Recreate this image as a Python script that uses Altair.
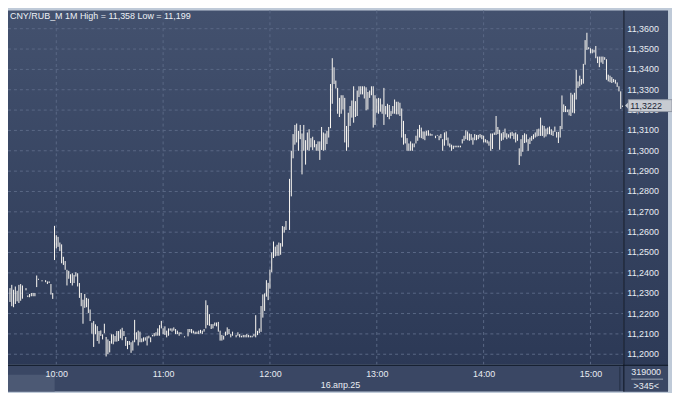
import altair as alt
import pandas as pd
from datetime import datetime, timedelta

# ---- data (1-minute bars, high / low) ----
highs = [
    11.2325, 11.2341, 11.2317, 11.2333, 11.2312, 11.2341, 11.2345, 11.2338, None, 11.2325,
    11.2289, 11.2296, 11.2301, 11.2301, 11.2301, 11.2387, 11.2371, None, 11.2364, None,
    11.2364, 11.2358, 11.2358, 11.2345, 11.2301, 11.2631, 11.2585, 11.2577, 11.2549, 11.2540,
    11.2479, 11.2458, 11.2415, 11.2410, 11.2393, 11.2398, 11.2390, 11.2403, 11.2398, 11.2350,
    11.2301, 11.2268, 11.2296, 11.2277, 11.2273, 11.2220, 11.2155, 11.2163, 11.2147, 11.2138,
    11.2114, 11.2117, 11.2098, 11.2150, 11.2085, 11.2073, 11.2065, 11.2098, 11.2098, 11.2090,
    11.2114, 11.2114, 11.2122, 11.2130, 11.2114, 11.2085, 11.2065, 11.2065, 11.2059, 11.2067,
    11.2169, 11.2108, 11.2116, 11.2111, 11.2078, 11.2083, 11.2083, 11.2088, 11.2091, 11.2083,
    11.2095, 11.2104, 11.2108, 11.2127, 11.2143, 11.2164, 11.2127, 11.2137, 11.2116, 11.2127,
    11.2127, 11.2127, 11.2132, 11.2124, 11.2116, 11.2108, 11.2108, None, 11.2088, None,
    11.2124, 11.2124, 11.2124, 11.2116, 11.2111, 11.2111, 11.2116, 11.2120, 11.2116, 11.2124,
    11.2265, 11.2241, 11.2197, 11.2148, 11.2148, 11.2156, 11.2156, 11.2159, 11.2116, 11.2095,
    11.2091, 11.2111, 11.2132, 11.2124, 11.2099, 11.2111, None, 11.2095, 11.2108, 11.2099,
    11.2091, 11.2095, 11.2095, 11.2099, 11.2095, 11.2091, 11.2091, 11.2099, 11.2192, 11.2115,
    11.2127, 11.2237, 11.2294, 11.2299, 11.2364, 11.2351, 11.2416, 11.2500, 11.2554, 11.2529,
    11.2538, 11.2549, 11.2546, 11.2630, 11.2627, 11.2655, None, 11.2862, 11.3000, 11.3082,
    11.3127, 11.3134, 11.3098, 11.3127, 11.3085, 11.3127, 11.3052, 11.3090, 11.3106, 11.3062,
    11.3069, 11.3052, 11.3033, 11.3046, 11.3046, 11.3117, 11.3090, 11.3085, 11.3098, 11.3117,
    11.3328, 11.3455, 11.3410, 11.3345, 11.3309, 11.3260, 11.3273, 11.3273, 11.3260, 11.3122,
    11.3187, 11.3220, 11.3247, 11.3317, 11.3244, 11.3296, 11.3317, 11.3317, 11.3317, 11.3317,
    11.3312, 11.3289, 11.3296, 11.3317, 11.3317, 11.3273, 11.3257, 11.3260, 11.3257, 11.3228,
    11.3309, 11.3220, 11.3231, 11.3225, 11.3195, 11.3220, 11.3252, 11.3241, 11.3241, 11.3236,
    11.3208, 11.3147, 11.3082, 11.3062, 11.3036, 11.3046, 11.3036, 11.3036, 11.3074, 11.3106,
    11.3127, 11.3114, 11.3095, 11.3095, 11.3098, 11.3101, 11.3085, 11.3082, None, 11.3074,
    11.3078, 11.3074, 11.3082, 11.3057, 11.3090, 11.3095, 11.3065, 11.3036, 11.3030, 11.3025,
    11.3025, 11.3025, 11.3025, 11.3025, 11.3057, 11.3074, 11.3101, 11.3095, 11.3085, 11.3082,
    11.3065, 11.3082, 11.3078, 11.3078, 11.3082, 11.3078, 11.3074, 11.3057, 11.3052, 11.3046,
    11.3085, 11.3085, 11.3090, 11.3171, 11.3117, 11.3103, 11.3086, 11.3093, 11.3109, 11.3086,
    11.3081, 11.3090, 11.3093, 11.3086, 11.3090, 11.3081, 11.3012, 11.3057, 11.3077, 11.3086,
    11.3081, 11.3057, 11.3065, 11.3073, 11.3081, 11.3090, 11.3106, 11.3109, 11.3163, 11.3125,
    11.3122, 11.3109, 11.3114, 11.3119, 11.3106, 11.3098, 11.3119, 11.3093, 11.3093, 11.3122,
    11.3272, 11.3228, 11.3220, 11.3203, 11.3203, 11.3285, 11.3276, 11.3285, 11.3398, 11.3341,
    11.3369, 11.3353, 11.3427, 11.3544, 11.3580, 11.3509, 11.3504, 11.3499, 11.3496, 11.3515,
    11.3463, 11.3463, 11.3463, 11.3463, 11.3460, 11.3450, 11.3374, 11.3369, 11.3362, 11.3353,
    11.3349, 11.3336, 11.3317, 11.3292, 11.3222,
]
lows = [
    11.2257, 11.2236, 11.2231, 11.2247, 11.2260, 11.2252, 11.2263, 11.2273, None, 11.2314,
    11.2281, 11.2280, 11.2285, 11.2285, 11.2285, 11.2330, 11.2366, None, 11.2358, None,
    11.2354, 11.2345, 11.2350, 11.2293, 11.2272, 11.2463, 11.2520, 11.2528, 11.2507, 11.2447,
    11.2439, 11.2415, 11.2338, 11.2371, 11.2350, 11.2338, 11.2350, 11.2382, 11.2333, 11.2277,
    11.2236, 11.2150, 11.2228, 11.2231, 11.2203, 11.2163, 11.2101, 11.2036, 11.2098, 11.2065,
    11.2052, 11.2090, 11.2073, 11.2103, 11.1989, 11.2000, 11.2009, 11.2052, 11.2049, 11.2062,
    11.2062, 11.2065, 11.2078, 11.2069, 11.2090, 11.2041, 11.2025, 11.2046, 11.2007, 11.2018,
    11.2059, 11.2072, 11.2043, 11.2059, 11.2059, 11.2062, 11.2067, 11.2043, 11.2078, 11.2059,
    11.2088, 11.2088, 11.2091, 11.2091, 11.2091, 11.2127, 11.2099, 11.2095, 11.2083, 11.2091,
    11.2116, 11.2111, 11.2116, 11.2099, 11.2099, 11.2091, 11.2099, None, 11.2083, None,
    11.2088, 11.2108, 11.2103, 11.2103, 11.2099, 11.2099, 11.2099, 11.2103, 11.2099, 11.2111,
    11.2127, 11.2143, 11.2140, 11.2124, 11.2127, 11.2140, 11.2137, 11.2111, 11.2067, 11.2067,
    11.2072, 11.2091, 11.2095, 11.2099, 11.2083, 11.2091, None, 11.2083, 11.2091, 11.2083,
    11.2083, 11.2083, 11.2083, 11.2083, 11.2083, 11.2083, 11.2083, 11.2088, 11.2083, 11.2094,
    11.2104, 11.2110, 11.2180, 11.2213, 11.2283, 11.2266, 11.2322, 11.2403, 11.2473, 11.2481,
    11.2484, 11.2484, 11.2489, 11.2529, 11.2598, 11.2611, None, 11.2611, 11.2776, 11.2963,
    11.3030, 11.3041, 11.3000, 11.3057, 11.2884, 11.3000, 11.2932, 11.3004, 11.3000, 11.3017,
    11.3004, 11.3017, 11.3000, 11.3000, 11.2955, 11.3004, 11.3000, 11.3004, 11.3033, 11.3065,
    11.3111, 11.3231, 11.3328, 11.3306, 11.3182, 11.3166, 11.3182, 11.3203, 11.3041, 11.3000,
    11.3017, 11.3122, 11.3163, 11.3138, 11.3166, 11.3171, 11.3264, 11.3277, 11.3277, 11.3257,
    11.3199, 11.3203, 11.3260, 11.3273, 11.3114, 11.3127, 11.3187, 11.3182, 11.3192, 11.3182,
    11.3127, 11.3179, 11.3166, 11.3155, 11.3171, 11.3182, 11.3182, 11.3179, 11.3179, 11.3171,
    11.3065, 11.3030, 11.3036, 11.3000, 11.3000, 11.3000, 11.3000, 11.3017, 11.3036, 11.3049,
    11.3065, 11.3062, 11.3057, 11.3052, 11.3074, 11.3074, 11.3074, 11.3074, None, 11.3062,
    11.3074, 11.3052, 11.3062, 11.3000, 11.3025, 11.3052, 11.3025, 11.3017, 11.3000, 11.3009,
    11.3017, 11.3017, 11.3017, 11.3017, 11.3036, 11.3049, 11.3057, 11.3052, 11.3049, 11.3052,
    11.3030, 11.3052, 11.3052, 11.3057, 11.3065, 11.3057, 11.3041, 11.3041, 11.3036, 11.3025,
    11.3000, 11.3009, 11.3078, 11.3078, 11.3082, 11.3005, 11.3049, 11.3054, 11.3065, 11.3057,
    11.3065, 11.3060, 11.3073, 11.3057, 11.3041, 11.3049, 11.2930, 11.2973, 11.2995, 11.3038,
    11.3041, 11.3000, 11.3033, 11.3049, 11.3057, 11.3065, 11.3070, 11.3073, 11.3073, 11.3073,
    11.3065, 11.3070, 11.3081, 11.3081, 11.3077, 11.3073, 11.3093, 11.3065, 11.3038, 11.3065,
    11.3106, 11.3190, 11.3190, 11.3190, 11.3174, 11.3171, 11.3187, 11.3184, 11.3252, 11.3309,
    11.3317, 11.3325, 11.3330, 11.3423, 11.3496, 11.3499, 11.3479, 11.3479, 11.3483, 11.3455,
    11.3431, 11.3411, 11.3434, 11.3427, 11.3447, 11.3349, 11.3341, 11.3337, 11.3333, 11.3337,
    11.3330, 11.3314, 11.3292, 11.3206, 11.3216,
]

symbol = "CNY/RUB_M 1M"
first_bar = datetime(2025, 4, 16, 9, 34)
hour_ticks = [10, 11, 12, 13, 14, 15]
y_ticks = [11.20, 11.21, 11.22, 11.23, 11.24, 11.25, 11.26, 11.27, 11.28,
           11.29, 11.30, 11.31, 11.32, 11.33, 11.34, 11.35, 11.36]
last_price = 11.3222
volume_text = "319000"
date_label = "16.апр.25"

# ---- tables ----
n = min(len(highs), len(lows))
bars = pd.DataFrame({
    "t": [(first_bar + timedelta(minutes=i)).isoformat() for i in range(n)],
    "hi": highs[:n],
    "lo": lows[:n],
}).dropna()


def comma(v, d):
    return f"{v:.{d}f}".replace(".", ",")


ylab = pd.DataFrame({"v": y_ticks, "lab": [comma(v, 4) for v in y_ticks]})
hours = pd.DataFrame({"t": [datetime(2025, 4, 16, h).isoformat() for h in hour_ticks]})
price = pd.DataFrame({"p": [last_price], "lab": [comma(last_price, 4)]})
one = pd.DataFrame({"k": [0]})

title_text = f"{symbol} High = {comma(bars.hi.max(), 3)} Low = {comma(bars.lo.min(), 3)}"
count_text = f">{n}<"

W, H = 620, 357
FONT = "Liberation Sans"
TXT = "#e8ecf2"

xscale = alt.Scale(domain=[
    alt.DateTime(year=2025, month=4, date=16, hours=9, minutes=32, seconds=53),
    alt.DateTime(year=2025, month=4, date=16, hours=15, minutes=18, seconds=29),
])
yscale = alt.Scale(domain=[11.19483, 11.36898], nice=False, zero=False)
xaxis = alt.Axis(
    values=[alt.DateTime(year=2025, month=4, date=16, hours=h) for h in hour_ticks],
    format="%H:%M", grid=False, domain=False, ticks=False, tickSize=0,
    labelPadding=9, labelBaseline="middle", labelFont=FONT, labelFontSize=9,
    labelColor=TXT, title=None, zindex=1, labelFlush=False,
)

grad_plot = alt.Gradient(
    gradient="linear", x1=0, x2=0, y1=0, y2=1,
    stops=[alt.GradientStop(color="#43516e", offset=0),
           alt.GradientStop(color="#2c3956", offset=1)],
)
grad_side = alt.Gradient(
    gradient="linear", x1=0, x2=0, y1=0, y2=1,
    stops=[alt.GradientStop(color="#3f4d6a", offset=0),
           alt.GradientStop(color="#2c3956", offset=1)],
)


def box(x1, x2, y1, y2, **kw):
    return alt.Chart(one).mark_rect(**kw).encode(
        x=alt.value(x1), x2=alt.value(x2), y=alt.value(y1), y2=alt.value(y2))


def line(x1, x2, y1, y2, color, width=1):
    return alt.Chart(one).mark_rule(color=color, strokeWidth=width).encode(
        x=alt.value(x1), x2=alt.value(x2), y=alt.value(y1), y2=alt.value(y2))


def label(x, y, text, align="center", color=TXT, size=9):
    return alt.Chart(one).mark_text(
        text=text, align=align, baseline="middle", font=FONT, fontSize=size, color=color
    ).encode(x=alt.value(x), y=alt.value(y))


bg_plot = box(0, W, 0, H, fill=grad_plot)
bg_side = box(W, W + 45, 0, H + 27, fill=grad_side)
bg_bottom = box(0, W + 45, H, H + 27, fill="#3a4764")
bg_scroll = box(0, 47, H + 10, H + 27, fill="#4c5974")

grid_h = alt.Chart(ylab).mark_rule(color="#5a6885", strokeDash=[3, 3], strokeWidth=1).encode(
    y=alt.Y("v:Q", scale=yscale, axis=None), x=alt.value(0), x2=alt.value(W))
grid_v = alt.Chart(hours).mark_rule(color="#5a6885", strokeDash=[3, 3], strokeWidth=1).encode(
    x=alt.X("t:T", scale=xscale, axis=xaxis), y=alt.value(0), y2=alt.value(H))

bar_layer = alt.Chart(bars).mark_rule(color="#fdfaf4", strokeWidth=1).encode(
    x=alt.X("t:T", scale=xscale, axis=xaxis),
    y=alt.Y("hi:Q", scale=yscale, axis=None),
    y2="lo:Q",
)

sep_v = line(W + 0.5, W + 0.5, 0, H + 27, "#0d1422")
sep_h = line(0, W + 45, H + 0.5, H + 0.5, "#0d1422")
sep_small = line(616.5, 616.5, H + 2, H + 26, "#222d44")
sep_vol = line(628, 660, H + 14.5, H + 14.5, "#9aa3b3")

ylabels = alt.Chart(ylab).mark_text(
    align="left", baseline="middle", font=FONT, fontSize=9, color=TXT
).encode(y=alt.Y("v:Q", scale=yscale, axis=None), x=alt.value(624), text="lab:N")

title = label(2, 6, title_text, align="left", color="#eef1f6")
date_txt = label(335, H + 20, date_label)
vol_txt = label(643, H + 7, volume_text)
cnt_txt = label(643, H + 21, count_text)

p_box = alt.Chart(price).mark_rect(
    fill="#c7cbd2", stroke="#8f96a3", strokeWidth=1, yOffset=-6, y2Offset=6
).encode(y=alt.Y("p:Q", scale=yscale, axis=None), y2="p:Q",
         x=alt.value(625), x2=alt.value(669))
p_arrow = alt.Chart(price).mark_point(
    shape="M 0.6 -0.9 L -0.3 0 L 0.6 0.9 Z", filled=True, size=144,
    color="#c7cbd2", opacity=1, strokeWidth=0
).encode(y=alt.Y("p:Q", scale=yscale, axis=None), x=alt.value(623.5))
p_txt = alt.Chart(price).mark_text(
    align="left", baseline="middle", font=FONT, fontSize=9, color="#1b2436"
).encode(y=alt.Y("p:Q", scale=yscale, axis=None), x=alt.value(627), text="lab:N")

chart = alt.layer(
    bg_plot, bg_side, bg_bottom, bg_scroll, grid_h, grid_v, bar_layer,
    sep_v, sep_h, sep_small, sep_vol, ylabels, title, date_txt, vol_txt, cnt_txt,
    p_arrow, p_box, p_txt,
).properties(
    width=W, height=H,
    padding={"left": 0, "top": 1, "right": 49, "bottom": 27},
    autosize=alt.AutoSizeParams(type="none"),
    usermeta={"embedOptions": {"defaultStyle": "body{background:#bfcad8;} .vega-embed{display:inline-block;}"}},
).configure(background="#bfcad8").configure_view(strokeWidth=0)

chart.save("out.html", embed_options={"renderer": "svg", "actions": False})
